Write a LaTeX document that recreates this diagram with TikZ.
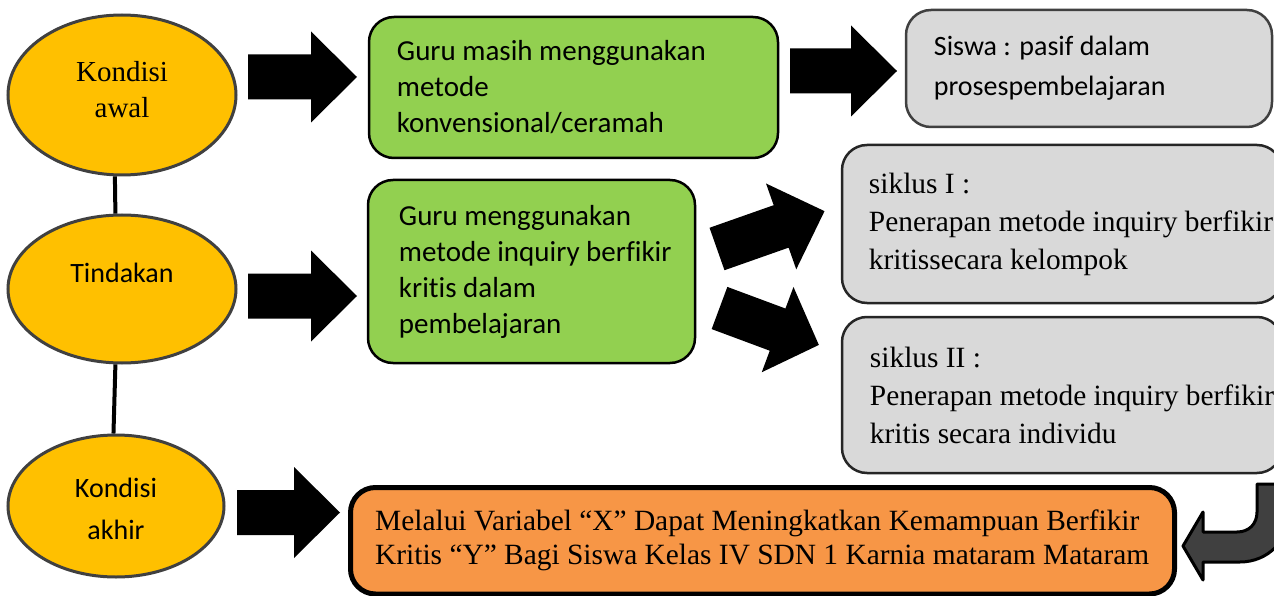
\documentclass[tikz,border=0pt]{standalone}
\usepackage{fontspec}
\setmainfont[Ligatures={TeX,NoCommon}]{Liberation Serif}
\newfontfamily\calibri[Ligatures={NoCommon}]{Carlito}
\usetikzlibrary{shapes.geometric}
\definecolor{ellfill}{HTML}{FFC000}
\definecolor{ellline}{HTML}{404040}
\definecolor{greenfill}{HTML}{92D050}
\definecolor{grayfill}{HTML}{D9D9D9}
\definecolor{orangefill}{HTML}{F79646}
\definecolor{uturnfill}{HTML}{404040}
\newcommand{\blkarrow}[5]{%
  \fill[black,shift={(#1,#2)},rotate=#3] (0,-22.5) -- (#4,-22.5) -- (#4,-45.5) -- (#5,0) -- (#4,45.5) -- (#4,22.5) -- (0,22.5) -- cycle;}
\begin{document}
\begin{tikzpicture}[x=1pt,y=-1pt,
  ell/.style={ellipse, draw=ellline, line width=3pt, fill=ellfill, inner sep=0pt},
  conn/.style={line width=4pt, black},
  greenbox/.style={rectangle, rounded corners=25pt, draw=black, line width=2.5pt, fill=greenfill},
  graybox/.style={rectangle, rounded corners=25pt, draw=black!85, line width=2.5pt, fill=grayfill},
  orangebox/.style={rectangle, rounded corners=25pt, draw=black, line width=5pt, fill=orangefill},
  sanstxt/.style={font=\calibri\fontsize{29}{36}\selectfont, align=left, inner sep=0pt, anchor=west},
  serif/.style={font=\fontsize{29.4}{38}\selectfont, align=left, inner sep=0pt, anchor=west},
]
\useasboundingbox (0,0) rectangle (1274,596);
\clip (0,0) rectangle (1274,596);
\fill[white] (0,0) rectangle (1274,596);

% ellipses
\node[ell, minimum width=228pt, minimum height=160pt] (e1) at (122,95) {};
\node[ell, minimum width=228pt, minimum height=148pt] (e2) at (122,289) {};
\node[ell, minimum width=216pt, minimum height=142pt] (e3) at (116,506) {};
\node[font=\fontsize{29}{36}\selectfont, align=center, inner sep=0pt] (t1) at (122,90) {Kondisi\\awal};
\node[font=\calibri\fontsize{28}{34}\selectfont, inner sep=0pt] (t2) at (122,273) {Tindakan};
\node[font=\calibri\fontsize{28}{42}\selectfont, align=center, inner sep=0pt] (t3) at (116,509) {Kondisi\\akhir};
\draw[conn] (e1.-95) -- (e2.95);
\draw[conn] (e2.-95) -- (e3.92);

% block arrows
\blkarrow{248}{77}{0}{63}{109}
\blkarrow{248}{296}{0}{63}{109}
\blkarrow{237}{512.5}{0}{57}{103}
\blkarrow{790}{71}{0}{61}{107}
\blkarrow{717}{249}{19.4}{68}{114}
\blkarrow{719.5}{308}{-20.4}{62}{106}

% green boxes
\node[greenbox, minimum width=409pt, minimum height=141pt] (g1) at (573.5,87.5) {};
\node[sanstxt] (g1t) at ([xshift=29pt]g1.west) {Guru masih menggunakan\\metode\\konvensional/ceramah};
\node[greenbox, minimum width=327pt, minimum height=183pt] (g2) at (531.5,271.5) {};
\node[sanstxt] (g2t) at ([xshift=32pt]g2.west) {Guru menggunakan\\metode inquiry berfikir\\kritis dalam\\pembelajaran};

% gray boxes
\node[graybox, draw=ellline, minimum width=366pt, minimum height=117pt] (s0) at (1089,68.5) {};
\node[sanstxt, font=\calibri\fontsize{28}{40}\selectfont] (s0t) at ([xshift=29pt]s0.west) {Siswa : pasif dalam\\prosespembelajaran};
\node[graybox, minimum width=440pt, minimum height=158pt] (s1) at (1062,224) {};
\node[serif] (s1t) at ([xshift=28pt]s1.west) {siklus I :\\Penerapan metode inquiry berfikir\\kritissecara kelompok};
\node[graybox, minimum width=440pt, minimum height=156pt] (s2) at (1062,395) {};
\node[serif] (s2t) at ([xshift=29pt]s2.west) {siklus II :\\Penerapan metode inquiry berfikir\\kritis secara individu};

% orange box
\node[orangebox, minimum width=824pt, minimum height=106.5pt] (o1) at (762.5,540.75) {};
\node[serif, font=\fontsize{29.4}{34}\selectfont] (o1t) at ([xshift=27pt]o1.west) {Melalui Variabel “X” Dapat Meningkatkan Kemampuan Berfikir\\Kritis “Y” Bagi Siswa Kelas IV SDN 1 Karnia mataram Mataram};

% u-turn arrow
\filldraw[fill=uturnfill, draw=black, line width=3pt, line join=round]
  (1257,484) -- (1257,512) .. controls (1257,524) and (1249,532) .. (1237,532)
  -- (1203,532) -- (1203,512) -- (1183,546) -- (1203,580) -- (1203,562)
  -- (1240,562) .. controls (1268,562) and (1290,540) .. (1290,510)
  -- (1290,484) -- cycle;
\end{tikzpicture}
\end{document}
